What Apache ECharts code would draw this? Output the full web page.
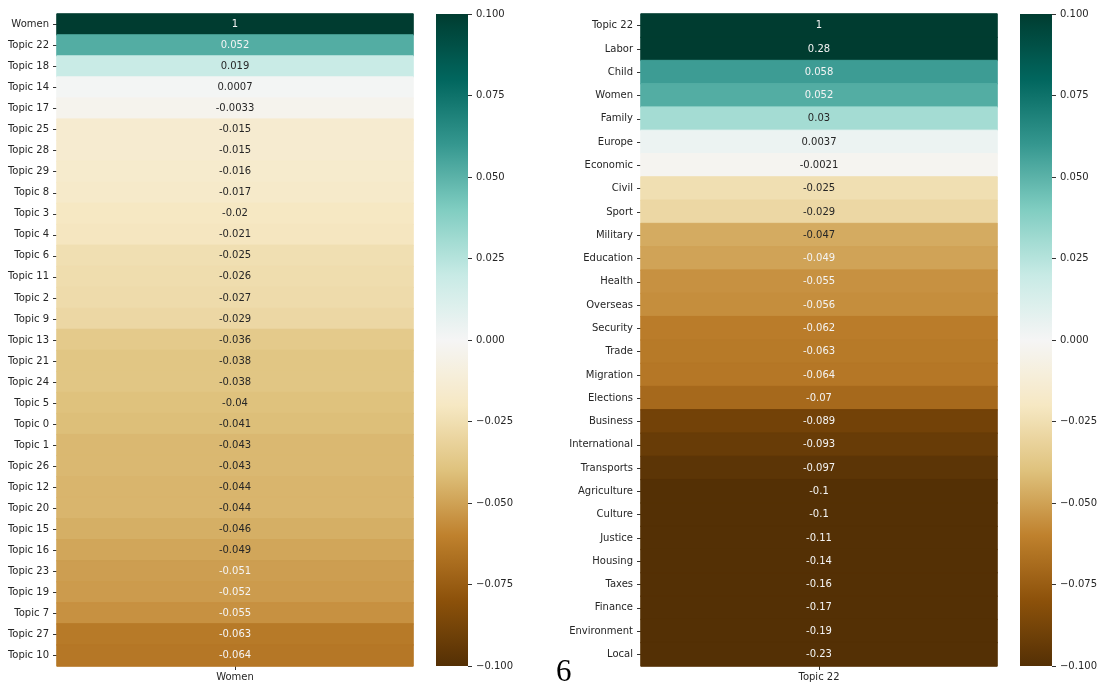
<!DOCTYPE html>
<html>
<head>
<meta charset="utf-8">
<script src="https://cdn.jsdelivr.net/npm/echarts@6/dist/echarts.min.js"></script>
<style>
html,body{margin:0;padding:0;background:#fff;}
#chart{width:1100px;height:682px;}
</style>
</head>
<body>
<div id="chart"></div>
<script>
// ---- data ----
const leftColumn = ['Women'];
const leftCategories = ['Women','Topic 22','Topic 18','Topic 14','Topic 17','Topic 25','Topic 28','Topic 29','Topic 8','Topic 3','Topic 4','Topic 6','Topic 11','Topic 2','Topic 9','Topic 13','Topic 21','Topic 24','Topic 5','Topic 0','Topic 1','Topic 26','Topic 12','Topic 20','Topic 15','Topic 16','Topic 23','Topic 19','Topic 7','Topic 27','Topic 10'];
const leftValues = [1,0.052,0.019,0.0007,-0.0033,-0.015,-0.015,-0.016,-0.017,-0.02,-0.021,-0.025,-0.026,-0.027,-0.029,-0.036,-0.038,-0.038,-0.04,-0.041,-0.043,-0.043,-0.044,-0.044,-0.046,-0.0487,-0.051,-0.052,-0.055,-0.063,-0.064];

const rightColumn = ['Topic 22'];
const rightCategories = ['Topic 22','Labor','Child','Women','Family','Europe','Economic','Civil','Sport','Military','Education','Health','Overseas','Security','Trade','Migration','Elections','Business','International','Transports','Agriculture','Culture','Justice','Housing','Taxes','Finance','Environment','Local'];
const rightValues = [1,0.28,0.058,0.052,0.03,0.0037,-0.0021,-0.025,-0.029,-0.047,-0.0494,-0.055,-0.056,-0.062,-0.063,-0.064,-0.07,-0.089,-0.093,-0.097,-0.1,-0.1,-0.11,-0.14,-0.16,-0.17,-0.19,-0.23];

const colorbarTicks = { min: -0.1, max: 0.1, interval: 0.025 };
const figureLabel = '6';

// ---- BrBG colormap ----
const BrBG = ['#543005','#8c510a','#bf812d','#dfc27d','#f6e8c3','#f5f5f5','#c7eae5','#80cdc1','#35978f','#01665e','#003c30'];
function hex2rgb(h){return [parseInt(h.slice(1,3),16),parseInt(h.slice(3,5),16),parseInt(h.slice(5,7),16)];}
function cmap(t){
  t=Math.max(0,Math.min(1,t));
  const n=BrBG.length-1, p=t*n, i=Math.min(n-1,Math.floor(p)), f=p-i;
  const a=hex2rgb(BrBG[i]), b=hex2rgb(BrBG[i+1]);
  return [0,1,2].map(k=>a[k]+(b[k]-a[k])*f);
}
function rgbStr(c){return 'rgb('+c.map(x=>Math.round(x)).join(',')+')';}
function norm(v){return (v-colorbarTicks.min)/(colorbarTicks.max-colorbarTicks.min);}
function lum(c){
  const l=c.map(x=>{x/=255;return x<=0.03928?x/12.92:Math.pow((x+0.055)/1.055,2.4);});
  return 0.2126*l[0]+0.7152*l[1]+0.0722*l[2];
}
function fmt(v){return Number(v.toPrecision(2)).toString();}

function buildData(vals){
  return vals.map((v,i)=>{
    const c=cmap(norm(v)), col=rgbStr(c);
    return {value:[0,i,v], itemStyle:{color:col,borderColor:col,borderWidth:1}, label:{color: lum(c)>0.408 ? '#262626' : '#f4f4f4'}};
  });
}
function gradStops(t0,t1){
  const stops=[];
  for(let k=0;k<=20;k++){const o=k/20; stops.push({offset:o,color:rgbStr(cmap(t0+(t1-t0)*o))});}
  return stops;
}

const FONT='DejaVu Sans';
const txt={color:'#262626',fontSize:10,fontFamily:FONT};

const grids=[
  {left:57, top:14, width:356, height:652},
  {left:436, top:14, width:32, height:652},
  {left:641, top:14, width:356, height:652},
  {left:1020, top:14, width:33, height:652}
];

function heatX(gi,data){
  return {type:'category',gridIndex:gi,data:data,axisLine:{show:false},
    axisTick:{show:true,alignWithLabel:true,length:4,lineStyle:{color:'#333'}},
    axisLabel:Object.assign({margin:6},txt),splitArea:{show:false},splitLine:{show:false}};
}
function heatY(gi,data){
  return {type:'category',gridIndex:gi,data:data,inverse:true,axisLine:{show:false},
    axisTick:{show:true,alignWithLabel:true,length:4,lineStyle:{color:'#333'}},
    axisLabel:Object.assign({margin:8},txt),splitArea:{show:false},splitLine:{show:false}};
}
function cbX(gi){
  return {type:'category',gridIndex:gi,data:['cb'],show:false};
}
function cbY(gi){
  return {type:'value',gridIndex:gi,position:'right',min:colorbarTicks.min,max:colorbarTicks.max,interval:colorbarTicks.interval,
    axisLine:{show:false},splitLine:{show:false},
    axisTick:{show:true,length:4,lineStyle:{color:'#333'}},
    axisLabel:Object.assign({margin:8,formatter:v=>{const s=v.toFixed(3);return s.replace('-','\u2212');}},txt)};
}
function heatSeries(gi,vals){
  return {type:'heatmap',xAxisIndex:gi,yAxisIndex:gi,data:buildData(vals),
    label:{show:true,fontSize:10,fontFamily:FONT,formatter:p=>fmt(p.value[2])},
    emphasis:{disabled:true},progressive:0};
}
function cbSeries(gi){
  return [
    {type:'bar',xAxisIndex:gi,yAxisIndex:gi,stack:'cb'+gi,barWidth:'100%',data:[colorbarTicks.max],silent:true,
      itemStyle:{color:new echarts.graphic.LinearGradient(0,0,0,1,gradStops(1,0.5))}},
    {type:'bar',xAxisIndex:gi,yAxisIndex:gi,stack:'cb'+gi,barWidth:'100%',data:[colorbarTicks.min],silent:true,
      itemStyle:{color:new echarts.graphic.LinearGradient(0,0,0,1,gradStops(0.5,0))}}
  ];
}

const chart=echarts.init(document.getElementById('chart'),null,{renderer:'canvas'});
chart.setOption({
  animation:false,
  backgroundColor:'#ffffff',
  textStyle:{fontFamily:FONT},
  grid:grids,
  xAxis:[heatX(0,leftColumn),cbX(1),heatX(2,rightColumn),cbX(3)],
  yAxis:[heatY(0,leftCategories),cbY(1),heatY(2,rightCategories),cbY(3)],
  series:[heatSeries(0,leftValues)].concat(cbSeries(1),[heatSeries(2,rightValues)],cbSeries(3)),
  graphic:[{type:'text',left:556,top:657,style:{text:figureLabel,fontSize:31,fontFamily:'Liberation Serif',fill:'#000'}}]
});
</script>
</body>
</html>
